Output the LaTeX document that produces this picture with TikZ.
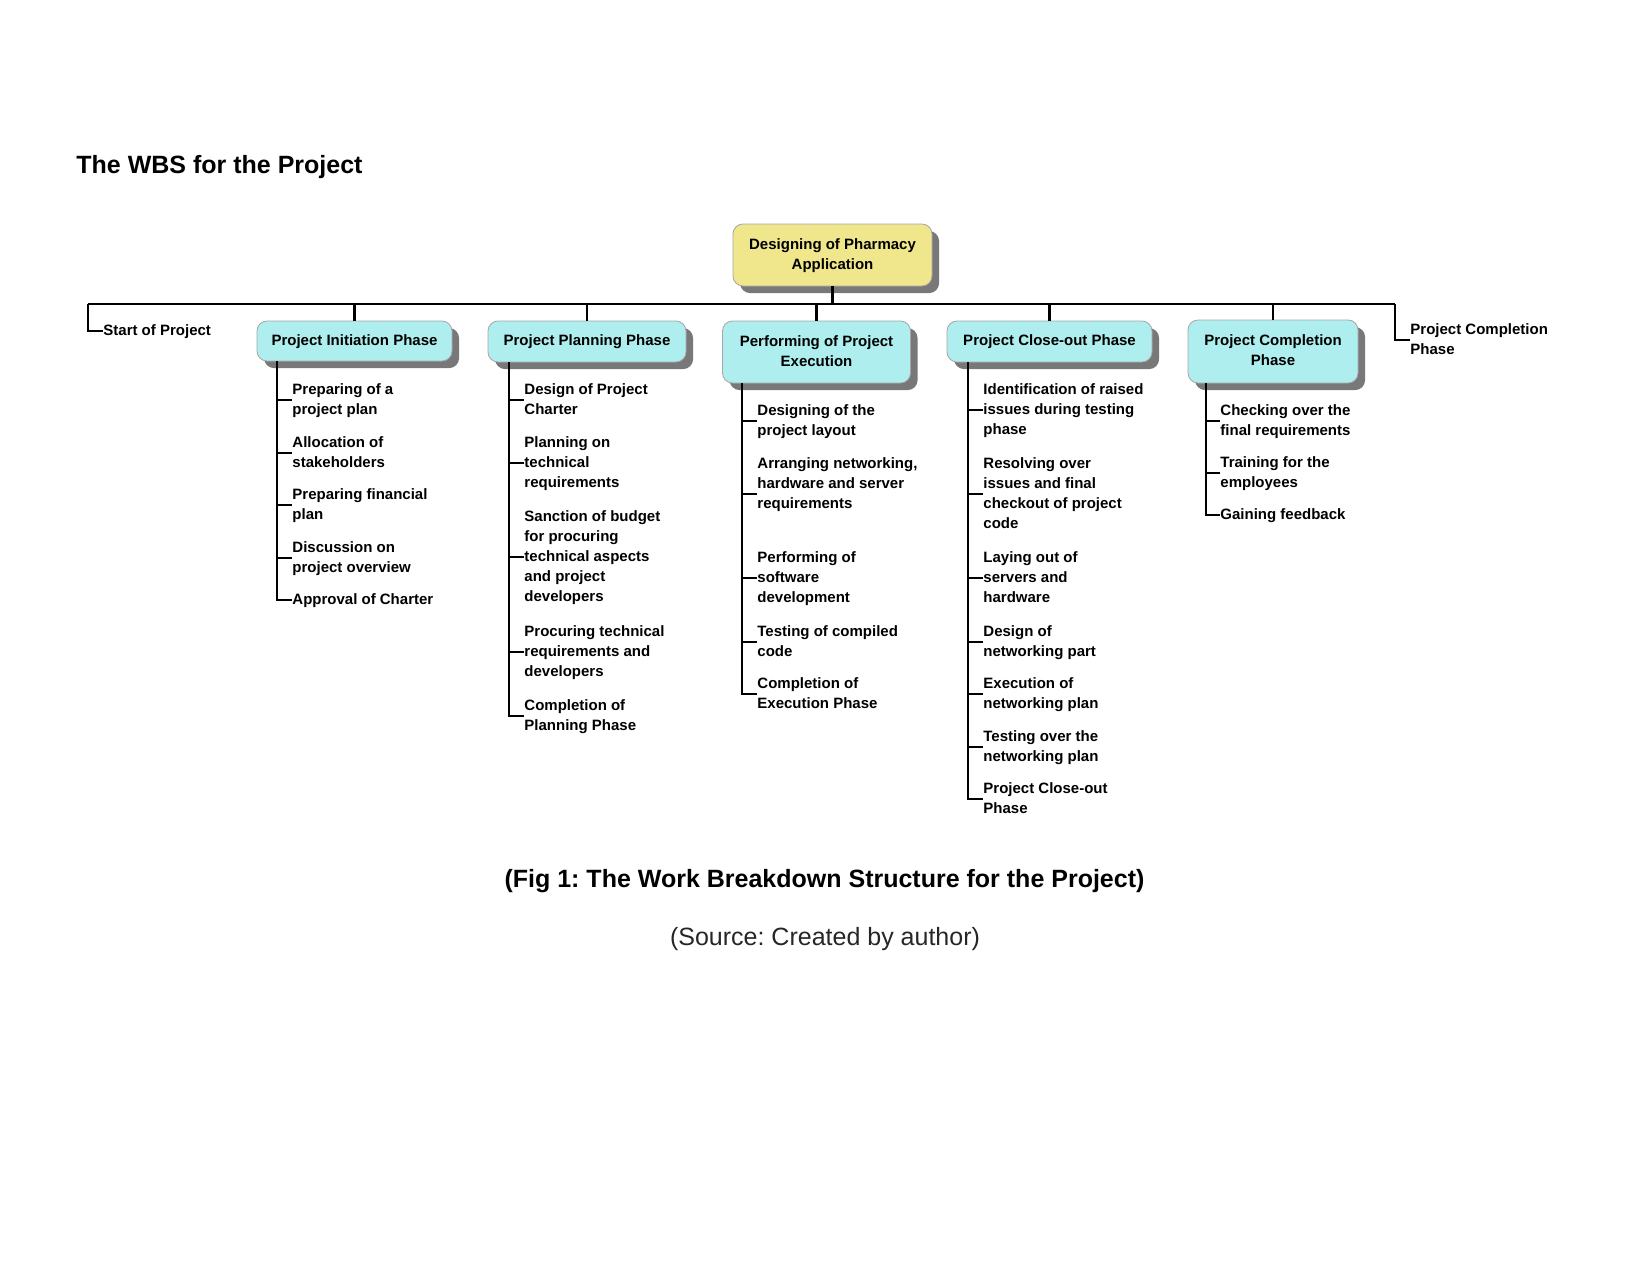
\documentclass[tikz,border=0pt]{standalone}
\usepackage{fontspec}
\setmainfont{Liberation Sans}
\usetikzlibrary{shadows}
\definecolor{rootfill}{RGB}{240,230,140}
\definecolor{phasefill}{RGB}{175,238,238}
\definecolor{shadowgray}{RGB}{120,120,120}
\newcommand\nl{\\\strut}
\frenchspacing
\begin{document}
\begin{tikzpicture}[x=0.48pt,y=-0.48pt,
  wbsline/.style={line width=1pt},
  boxbase/.style={rounded corners=4.8pt, draw=black!35, line width=0.4pt, align=center, inner sep=0pt,
     font=\fontsize{7.2}{9.6}\selectfont\bfseries,
     drop shadow={shadow xshift=3.4pt, shadow yshift=-3.4pt, fill=shadowgray, opacity=1}},
  rootbox/.style={boxbase, fill=rootfill},
  phasebox/.style={boxbase, fill=phasefill},
  item/.style={anchor=west, align=left, inner sep=0pt, font=\fontsize{7.2}{9.6}\selectfont\bfseries},
]
\useasboundingbox (0,-1) rectangle (1650,1274);

% title
\node[anchor=west, inner sep=0pt, font=\fontsize{12}{14}\selectfont\bfseries] (title) at (76,166) {The WBS for the Project};

% root and phases
\node[rootbox, minimum width=199*0.48pt, minimum height=62*0.48pt] (root) at (832.5,254) {\strut Designing of Pharmacy\nl Application};
\node[phasebox, minimum width=195*0.48pt, minimum height=40*0.48pt] (ini) at (354.5,340) {\strut Project Initiation Phase};
\node[phasebox, minimum width=198*0.48pt, minimum height=41*0.48pt] (pla) at (587,340.5) {\strut Project Planning Phase};
\node[phasebox, minimum width=188*0.48pt, minimum height=62*0.48pt] (per) at (816.5,351) {\strut Performing of Project\nl Execution};
\node[phasebox, minimum width=205*0.48pt, minimum height=41*0.48pt] (clo) at (1049.5,340.5) {\strut Project Close-out Phase};
\node[phasebox, minimum width=170*0.48pt, minimum height=63*0.48pt] (com) at (1273,350.5) {\strut Project Completion\nl Phase};

% side labels
\node[item] (start) at (103,330) {\strut Start of Project};
\node[item] (endp) at (1410,339) {\strut Project Completion\nl Phase};

% bus
\coordinate (busL) at (88,303);
\coordinate (busR) at (1395,303);
\draw[wbsline] (busL) -- (busR);
\draw[wbsline] (root.south) -- (root.south |- busL);
\foreach \p in {ini,pla,per,clo,com} \draw[wbsline] (\p.north |- busL) -- (\p.north);
\draw[wbsline] (busL) |- (start.west);
\draw[wbsline] (busR) |- (endp.west);

% Initiation items
\node[item] (ini1) at (292,399) {\strut Preparing of a\nl project plan};
\node[item] (ini2) at (292,452) {\strut Allocation of\nl stakeholders};
\node[item] (ini3) at (292,504) {\strut Preparing financial\nl plan};
\node[item] (ini4) at (292,557) {\strut Discussion on\nl project overview};
\node[item] (ini5) at (292,599) {\strut Approval of Charter};

% Planning items
\node[item] (pla1) at (524,399) {\strut Design of Project\nl Charter};
\node[item] (pla2) at (524,462) {\strut Planning on\nl technical\nl requirements};
\node[item] (pla3) at (524,556) {\strut Sanction of budget\nl for procuring\nl technical aspects\nl and project\nl developers};
\node[item] (pla4) at (524,651) {\strut Procuring technical\nl requirements and\nl developers};
\node[item] (pla5) at (524,715) {\strut Completion of\nl Planning Phase};

% Performing items
\node[item] (per1) at (757,420) {\strut Designing of the\nl project layout};
\node[item] (per2) at (757,493) {\strut Arranging networking,\nl hardware and server\nl requirements\nl};
\node[item] (per3) at (757,577) {\strut Performing of\nl software\nl development};
\node[item] (per4) at (757,641) {\strut Testing of compiled\nl code};
\node[item] (per5) at (757,693) {\strut Completion of\nl Execution Phase};

% Close-out items
\node[item] (clo1) at (983,409) {\strut Identification of raised\nl issues during testing\nl phase};
\node[item] (clo2) at (983,493) {\strut Resolving over\nl issues and final\nl checkout of project\nl code};
\node[item] (clo3) at (983,577) {\strut Laying out of\nl servers and\nl hardware};
\node[item] (clo4) at (983,641) {\strut Design of\nl networking part};
\node[item] (clo5) at (983,693) {\strut Execution of\nl networking plan};
\node[item] (clo6) at (983,746) {\strut Testing over the\nl networking plan};
\node[item] (clo7) at (983,798) {\strut Project Close-out\nl Phase};

% Completion items
\node[item] (com1) at (1220,420) {\strut Checking over the\nl final requirements};
\node[item] (com2) at (1220,472) {\strut Training for the\nl employees};
\node[item] (com3) at (1220,514) {\strut Gaining feedback};

% child connectors
\coordinate (iniV) at (277,360);
\coordinate (plaV) at (509,361);
\coordinate (perV) at (742,382);
\coordinate (cloV) at (968,361);
\coordinate (comV) at (1206,382);
\foreach \n in {ini1,ini2,ini3,ini4} \draw[wbsline] (iniV |- \n.west) -- (\n.west);
\draw[wbsline] (iniV) |- (ini5.west);
\foreach \n in {pla1,pla2,pla3,pla4} \draw[wbsline] (plaV |- \n.west) -- (\n.west);
\draw[wbsline] (plaV) |- (pla5.west);
\foreach \n in {per1,per2,per3,per4} \draw[wbsline] (perV |- \n.west) -- (\n.west);
\draw[wbsline] (perV) |- (per5.west);
\foreach \n in {clo1,clo2,clo3,clo4,clo5,clo6} \draw[wbsline] (cloV |- \n.west) -- (\n.west);
\draw[wbsline] (cloV) |- (clo7.west);
\foreach \n in {com1,com2} \draw[wbsline] (comV |- \n.west) -- (\n.west);
\draw[wbsline] (comV) |- (com3.west);

% caption
\node[inner sep=0pt, font=\fontsize{12}{14}\selectfont\bfseries] (caption) at (824.5,880) {(Fig 1: The Work Breakdown Structure for the Project)};
\node[inner sep=0pt, font=\fontsize{12}{14}\selectfont, text=black!85] (source) at (825,938) {(Source: Created by author)};
\end{tikzpicture}
\end{document}
